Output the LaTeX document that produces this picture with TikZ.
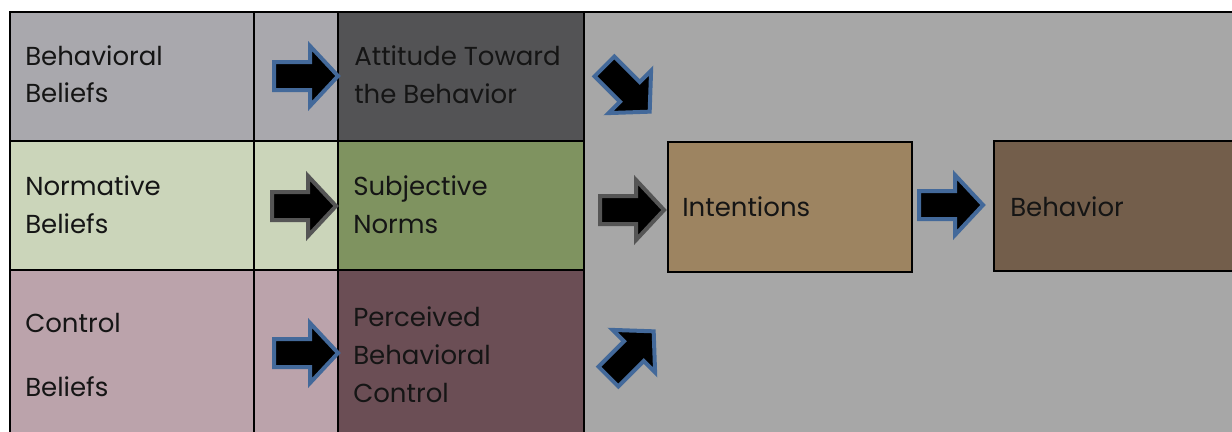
\documentclass[tikz,border=0pt]{standalone}
\usepackage{fontspec}
\setmainfont{Poppins}
\definecolor{rowAa}{HTML}{A9A8AD}
\definecolor{rowAb}{HTML}{535355}
\definecolor{rowBa}{HTML}{CBD5BA}
\definecolor{rowBb}{HTML}{7F9360}
\definecolor{rowCa}{HTML}{BBA3AB}
\definecolor{rowCb}{HTML}{6B4E55}
\definecolor{bggray}{HTML}{A7A7A7}
\definecolor{intcol}{HTML}{9D8461}
\definecolor{behcol}{HTML}{735E4B}
\definecolor{blueline}{HTML}{43699A}
\definecolor{grayline}{HTML}{555555}
\definecolor{txt}{HTML}{151515}
\tikzset{
  barrow/.pic={
    \path[pic actions] (2,-14) -- (38,-14) -- (38,-30) -- (66,0) -- (38,30) -- (38,14) -- (2,14) -- cycle;
  },
  bluearrow/.style={draw=blueline, fill=black, line width=3pt, line join=miter},
  grayarrow/.style={draw=grayline, fill=black, line width=3pt, line join=miter},
  lbl/.style={anchor=base west, inner sep=0pt, text=txt, font=\fontsize{19.5pt}{23pt}\selectfont},
  grid/.style={line width=1.6pt, draw=black},
  box/.style={line width=1.6pt, draw=black},
}
\begin{document}
\begin{tikzpicture}[x=0.75pt, y=-0.75pt]
\useasboundingbox (0,0) rectangle (1232,432);
\fill[white] (0,0) rectangle (1232,432);
% background cells
\fill[rowAa] (10,12) rectangle (338,141);
\fill[rowAb] (338,12) rectangle (584,141);
\fill[rowBa] (10,141) rectangle (338,270);
\fill[rowBb] (338,141) rectangle (584,270);
\fill[rowCa] (10,270) rectangle (338,432);
\fill[rowCb] (338,270) rectangle (584,432);
\fill[bggray] (584,12) rectangle (1232,432);
% grid lines
\draw[grid] (10,432) -- (10,12) -- (1232,12);
\draw[grid] (10,141) -- (584,141);
\draw[grid] (10,270) -- (584,270);
\draw[grid] (254,12) -- (254,432);
\draw[grid] (338,12) -- (338,432);
\draw[grid] (584,12) -- (584,432);
% boxes
\node[box, fill=intcol, minimum width=244*0.75pt, minimum height=130*0.75pt, anchor=north west, inner sep=0pt] (int) at (667,141) {};
\draw[box, fill=behcol] (1240,141) -- (994,141) -- (994,271) -- (1240,271);
\coordinate (beh) at (994,206);
% labels
\node[lbl] (bb1) at (25,65) {Behavioral};
\node[lbl] (bb2) at (25,102) {Beliefs};
\node[lbl] (at1) at (354,65) {Attitude Toward};
\node[lbl] (at2) at (354,103) {the Behavior};
\node[lbl] (nb1) at (25,195) {Normative};
\node[lbl] (nb2) at (25,233) {Beliefs};
\node[lbl] (sn1) at (353,195) {Subjective};
\node[lbl] (sn2) at (353,233) {Norms};
\node[lbl] (cb1) at (25,332) {Control};
\node[lbl] (cb2) at (25,396) {Beliefs};
\node[lbl] (pc1) at (353,326) {Perceived};
\node[lbl] (pc2) at (353,364) {Behavioral};
\node[lbl] (pc3) at (353,402) {Control};
\node[lbl] (intl) at (682,216) {Intentions};
\node[lbl] (behl) at (1010,216) {Behavior};
% block arrows
\pic[bluearrow] (ar1) at (272,76) {barrow};
\pic[grayarrow] (ar2) at (270,206) {barrow};
\pic[bluearrow] (ar3) at (272,353) {barrow};
\pic[grayarrow] (ar4) at (598,210) {barrow};
\pic[bluearrow] (ar5) at (917,205) {barrow};
\pic[bluearrow, rotate=-45] (ar6) at (603,65) {barrow};
\pic[bluearrow, rotate=45] (ar7) at (607,378) {barrow};
\end{tikzpicture}
\end{document}
